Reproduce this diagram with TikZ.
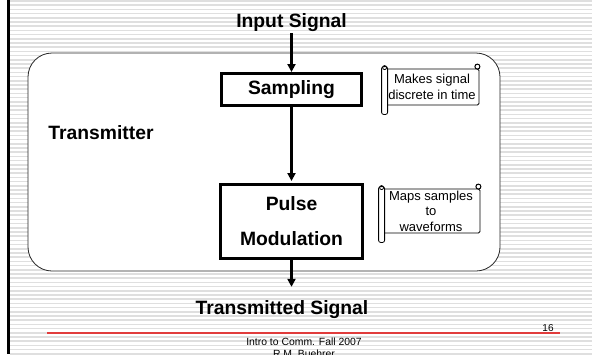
\documentclass[tikz,border=0pt]{standalone}
\usepackage{fontspec}
\setmainfont{Liberation Sans}
\usetikzlibrary{arrows.meta}
\usetikzlibrary{calc}

\definecolor{rulered}{RGB}{225,60,60}
\tikzset{
  blocktxt/.style={font=\fontsize{19.3}{23}\selectfont\bfseries,inner sep=2pt},
  block/.style={draw,line width=3pt,fill=white,inner sep=0pt,align=center,blocktxt},
  flow/.style={line width=2.5pt,-{Triangle[length=8pt,width=8pt]}},
  note/.style={draw,fill=white,rounded corners=1.5pt,inner sep=0pt,align=center,
    font=\fontsize{13}{15.5}\selectfont,line width=0.8pt},
}
% the rolled ends of a scroll note
\newcommand{\rollnote}[1]{%
  \draw[fill=white,line width=0.8pt,rounded corners=2pt]
    ($(#1.north west)+(-3,-2)$) rectangle ($(#1.south west)+(3,9)$);
  \draw[line width=0.8pt] ($(#1.north west)+(0,-1)$) circle (2pt);
  \draw[fill=white,line width=1pt] ($(#1.north east)+(-2,-2)$) circle (2.5pt);
}

\begin{document}
\begin{tikzpicture}[x=1pt,y=-1pt]
  \useasboundingbox (0,0) rectangle (592,354);
  \clip (0,0) rectangle (592,354);
  % slide background
  \fill[white] (0,0) rectangle (592,354);
  \foreach \k in {0,...,85}
    \draw[gray!25,line width=1.5pt] (10,4.2*\k+1) -- (592,4.2*\k+1);
  \draw[line width=2.5pt] (8.5,0) -- (8.5,354);

  \node[draw,fill=white,rounded corners=24pt,minimum width=472pt,minimum height=218pt,
    line width=0.8pt,draw=black!85] (tx) at (264,162) {};
  \node[blocktxt] (txlabel) at (101,133) {Transmitter};

  \node[blocktxt,anchor=base] (inp) at (291.5,27) {Input Signal};
  \node[block,minimum width=140pt,minimum height=32pt] (samp) at (291.5,89.5) {Sampling};
  \node[block,minimum width=142pt,minimum height=74pt,
    font=\fontsize{19.3}{35}\selectfont\bfseries] (pulse) at (291.5,221.5) {Pulse\\Modulation};
  \node[blocktxt,anchor=base] (out) at (282,314) {Transmitted Signal};

  \draw[flow] (inp.south) -- (samp.north);
  \draw[flow,shorten >=2pt] (samp.south) -- (pulse.north);
  \draw[flow,shorten >=11pt] (pulse.south) -- (pulse.south |- out.north);

  \node[note,minimum width=94pt,minimum height=36pt] (note1) at (432,87) {Makes signal\\discrete in time};
  \rollnote{note1}
  \node[note,minimum width=98pt,minimum height=44pt] (note2) at (431,211) {Maps samples\\to\\waveforms};
  \rollnote{note2}

  % footer
  \draw[rulered,line width=1.2pt] (47,333) -- (560,333);
  \node[font=\fontsize{10}{12}\selectfont,inner sep=1pt] (pagenum) at (548,328) {16};
  \node[font=\fontsize{10.4}{12.5}\selectfont,align=center,anchor=north,inner sep=0pt] (footer) at (304,337.5)
    {Intro to Comm. Fall 2007\\R.M. Buehrer};
\end{tikzpicture}
\end{document}
